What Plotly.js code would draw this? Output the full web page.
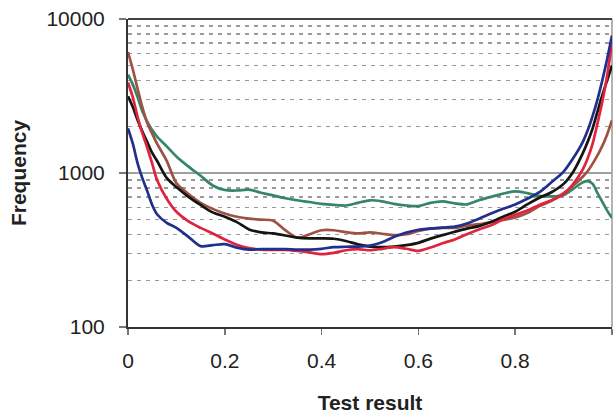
<!DOCTYPE html>
<html>
<head>
<meta charset="utf-8">
<script src="https://cdn.plot.ly/plotly-3.0.1.min.js"></script>
<style>
  html, body { margin: 0; padding: 0; background: #fff; }
  #chart { width: 614px; height: 417px; }
</style>
</head>
<body>
<div id="chart"></div>
<script>
// Test result grid (shared by all five curves)
const testResult = [0, 0.01, 0.02, 0.03, 0.04, 0.05, 0.06, 0.08, 0.1, 0.125, 0.15, 0.175,
  0.2, 0.225, 0.25, 0.275, 0.3, 0.325, 0.35, 0.375, 0.4, 0.425, 0.45, 0.475,
  0.5, 0.525, 0.55, 0.575, 0.6, 0.625, 0.65, 0.675, 0.7, 0.725, 0.75, 0.775,
  0.8, 0.825, 0.85, 0.875, 0.9, 0.92, 0.94, 0.95, 0.96, 0.97, 0.98, 0.99, 1.0];

// Frequency of each test result, one array per curve
const freqGreen = [4350, 3750, 3100, 2500, 2150, 1900, 1720, 1490, 1280, 1100, 960, 830,
  775, 770, 780, 745, 715, 685, 665, 648, 630, 620, 615, 640,
  665, 655, 630, 615, 610, 640, 655, 635, 625, 665, 700, 735,
  760, 740, 710, 705, 720, 790, 870, 885, 850, 740, 650, 570, 510];

const freqBrown = [6100, 4700, 3500, 2650, 2100, 1800, 1550, 1200, 860, 730, 640, 585,
  545, 520, 505, 498, 490, 425, 380, 400, 425, 425, 413, 405,
  412, 403, 395, 400, 420, 435, 440, 440, 455, 465, 480, 495,
  515, 550, 610, 660, 740, 830, 950, 1030, 1150, 1300, 1500, 1780, 2200];

const freqBlack = [3150, 2680, 2200, 1850, 1580, 1350, 1200, 930, 810, 700, 620, 555,
  520, 480, 430, 412, 405, 393, 380, 376, 376, 374, 362, 344,
  333, 330, 333, 340, 352, 375, 395, 415, 435, 452, 480, 520,
  560, 625, 690, 750, 850, 1020, 1350, 1600, 1950, 2500, 3200, 4000, 5000];

const freqRed = [3870, 3100, 2300, 1800, 1450, 1150, 900, 680, 560, 485, 440, 405,
  370, 342, 325, 318, 317, 317, 312, 305, 297, 303, 315, 320,
  315, 322, 330, 322, 312, 328, 350, 370, 400, 430, 458, 500,
  535, 570, 620, 665, 730, 850, 1060, 1250, 1550, 2100, 2900, 4300, 7000];

const freqBlue = [1950, 1550, 1150, 920, 760, 620, 540, 475, 440, 385, 335, 340,
  345, 328, 318, 320, 320, 320, 318, 318, 322, 330, 332, 333,
  338, 355, 385, 410, 428, 435, 442, 448, 470, 505, 545, 585,
  625, 680, 750, 870, 1020, 1250, 1600, 1900, 2350, 3000, 4000, 5500, 7800];

// Axis ticks
const yMajorTicks = [100, 1000, 10000];
const yMinorTicks = [200, 300, 400, 500, 600, 700, 800, 900,
  2000, 3000, 4000, 5000, 6000, 7000, 8000, 9000];
const xTicks = [0, 0.2, 0.4, 0.6, 0.8, 1];
const xTickLabels = ['0', '0.2', '0.4', '0.6', '0.8', '1'];

const curves = [
  { y: freqGreen, color: 'rgb(52,134,102)' },
  { y: freqBrown, color: 'rgb(158,82,70)' },
  { y: freqBlack, color: 'rgb(20,20,20)' },
  { y: freqRed,   color: 'rgb(222,36,62)' },
  { y: freqBlue,  color: 'rgb(32,48,140)' }
];

const traces = curves.map(c => ({
  type: 'scatter',
  mode: 'lines',
  x: testResult,
  y: c.y,
  line: { color: c.color, width: 2.7, shape: 'spline', smoothing: 0.8 },
  hoverinfo: 'x+y',
  cliponaxis: true
}));

const font = 'Arial, "Liberation Sans", Helvetica, sans-serif';

const layout = {
  width: 614,
  height: 417,
  margin: { l: 128, r: 2, t: 19, b: 90 },
  paper_bgcolor: '#ffffff',
  plot_bgcolor: '#ffffff',
  showlegend: false,
  font: { family: font, color: '#222', size: 21 },
  xaxis: {
    range: [0, 1],
    tickmode: 'array',
    tickvals: xTicks,
    ticktext: xTickLabels,
    ticks: 'outside',
    ticklen: 6,
    tickwidth: 1.5,
    tickcolor: '#777',
    ticklabelstandoff: 8,
    tickfont: { family: font, size: 21, color: '#222' },
    showgrid: false,
    zeroline: false,
    showline: true,
    linecolor: '#333',
    linewidth: 2,
    mirror: false,
    title: {
      text: '<b>Test result</b>',
      font: { family: font, size: 21, color: '#222' },
      standoff: 24
    }
  },
  yaxis: {
    type: 'log',
    range: [2, 4],
    tickmode: 'array',
    tickvals: yMajorTicks,
    ticktext: yMajorTicks.map(String),
    ticks: 'outside',
    ticklen: 7,
    tickwidth: 1.5,
    tickcolor: '#777',
    ticklabelstandoff: 10,
    tickfont: { family: font, size: 21, color: '#222' },
    showgrid: true,
    gridcolor: '#a0a0a0',
    gridwidth: 1.6,
    zeroline: false,
    showline: true,
    linecolor: '#333',
    linewidth: 2,
    minor: {
      tickmode: 'array',
      tickvals: yMinorTicks,
      ticks: '',
      showgrid: true,
      gridcolor: '#9a9a9a',
      gridwidth: 1.3,
      griddash: '4px,5px'
    },
    title: {
      text: '<b>Frequency</b>',
      font: { family: font, size: 21, color: '#222' },
      standoff: 14
    }
  },
  shapes: [
    // frame: top and right edges of the plotting area
    { type: 'line', xref: 'paper', yref: 'paper', x0: 0, x1: 1, y0: 1, y1: 1,
      line: { color: '#444', width: 2 }, layer: 'above' },
    { type: 'line', xref: 'paper', yref: 'paper', x0: 1, x1: 1, y0: 0, y1: 1,
      line: { color: '#999', width: 1.5 }, layer: 'below' }
  ]
};

Plotly.newPlot('chart', traces, layout, { displayModeBar: false, staticPlot: true });
</script>
</body>
</html>
